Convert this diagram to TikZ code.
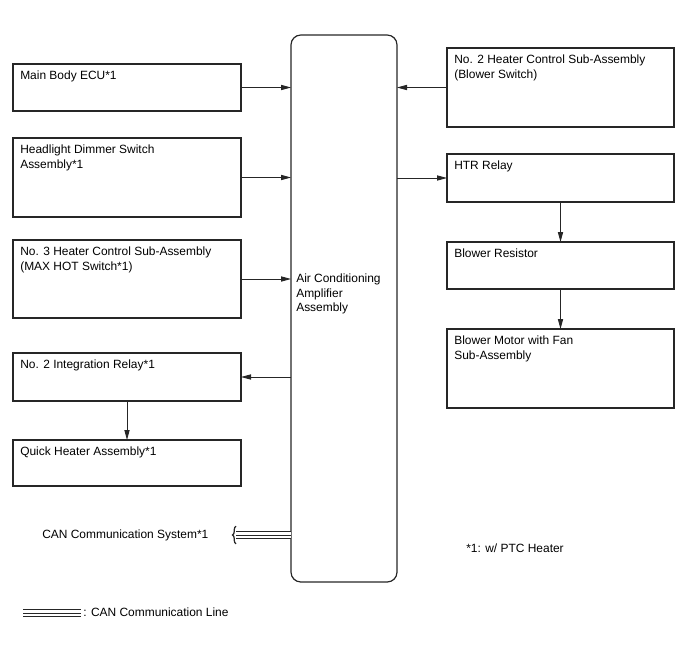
\documentclass[tikz,border=0pt]{standalone}
\usepackage{fontspec}
\setmainfont{Liberation Sans}
\usetikzlibrary{arrows.meta,positioning,decorations.pathreplacing}
\definecolor{acline}{HTML}{262626}
\newcommand{\acfont}{\fontsize{8.5}{10}\selectfont}

\begin{document}
\begin{tikzpicture}[
   x=0.025cm, y=-0.025cm,
   box/.style 2 args={draw=acline,line width=0.85pt,anchor=north west,
                      inner sep=0pt,outer sep=0pt,
                      minimum width=#1*0.025cm,minimum height=#2*0.025cm},
   lbl/.style={anchor=north west,inner sep=0pt,align=left,font=\acfont},
   note/.style={anchor=west,inner sep=0pt,font=\acfont},
   ar/.style={-{Triangle[length=2.5mm,width=1.3mm]},line width=0.6pt,acline},
   canline/.style={line width=5.6pt,acline,
                   postaction={draw=white,line width=3.8pt},
                   postaction={draw=acline,line width=0.7pt}}]
  \useasboundingbox (0,0) rectangle (688,658);
  % amplifier in the middle
  \node[box={106}{547},rounded corners=7pt] (amp) at (291,35) {};
  \node[lbl] (amp-t) at (296,274) {Air Conditioning\\Amplifier\\Assembly};
  % left column
  \node[box={228}{47}] (ecu) at (13,64) {};
  \node[box={228}{79}] (dimmer) at (13,138) {};
  \node[box={228}{78}] (heater3) at (13,240) {};
  \node[box={228}{48}] (relay2) at (13,353) {};
  \node[box={228}{46}] (quick) at (13,440) {};
  \node[lbl] (ecu-t) at ([shift={(7,7)}]ecu.north west) {Main Body ECU*1};
  \node[lbl] (dimmer-t) at ([shift={(7,7)}]dimmer.north west)
        {Headlight Dimmer Switch\\Assembly*1};
  \node[lbl] (heater3-t) at ([shift={(7,7)}]heater3.north west)
        {No. 3 Heater Control Sub-Assembly\\(MAX HOT Switch*1)};
  \node[lbl] (relay2-t) at ([shift={(7,7)}]relay2.north west) {No. 2 Integration Relay*1};
  \node[lbl] (quick-t) at ([shift={(7,7)}]quick.north west) {Quick Heater Assembly*1};
  % right column
  \node[box={227}{79}] (heater2) at (447,48) {};
  \node[box={227}{48}] (htr) at (447,154) {};
  \node[box={227}{47}] (resistor) at (447,242) {};
  \node[box={227}{79}] (motor) at (447,329) {};
  \node[lbl] (heater2-t) at ([shift={(7,7)}]heater2.north west)
        {No. 2 Heater Control Sub-Assembly\\(Blower Switch)};
  \node[lbl] (htr-t) at ([shift={(7,7)}]htr.north west) {HTR Relay};
  \node[lbl] (resistor-t) at ([shift={(7,7)}]resistor.north west) {Blower Resistor};
  \node[lbl] (motor-t) at ([shift={(7,7)}]motor.north west)
        {Blower Motor with Fan\\Sub-Assembly};
  % connectors
  \draw[ar] (ecu.east) -- (ecu.east -| amp.west);
  \draw[ar] (dimmer.east) -- (dimmer.east -| amp.west);
  \draw[ar] (heater3.east) -- (heater3.east -| amp.west);
  \draw[ar] (relay2.east -| amp.west) -- (relay2.east);
  \draw[ar] (relay2.south) -- (quick.north);
  \draw[ar] (heater2.west) -- (heater2.west -| amp.east);
  \draw[ar] (htr.west -| amp.east) -- (htr.west);
  \draw[ar] (htr.south) -- (resistor.north);
  \draw[ar] (resistor.south) -- (motor.north);
  % CAN
  \node[note] (can-t) at (42,535) {CAN Communication System*1};
  \coordinate (canend) at (236,535);
  \draw[canline] (canend) -- (canend -| amp.west);
  \draw[acline,line width=0.9pt,decorate,decoration={brace,amplitude=2.5pt}]
       ([yshift=-0.22cm]canend) -- ([yshift=0.22cm]canend);
  \node[note] (ptc) at (466,548) {*1: w/ PTC Heater};
  % legend
  \coordinate (lg-a) at (23,613);
  \coordinate (lg-b) at (81,613);
  \draw[canline] (lg-a) -- (lg-b);
  \node[note] (lg-t) at (83,612) {: CAN Communication Line};
\end{tikzpicture}
\end{document}
